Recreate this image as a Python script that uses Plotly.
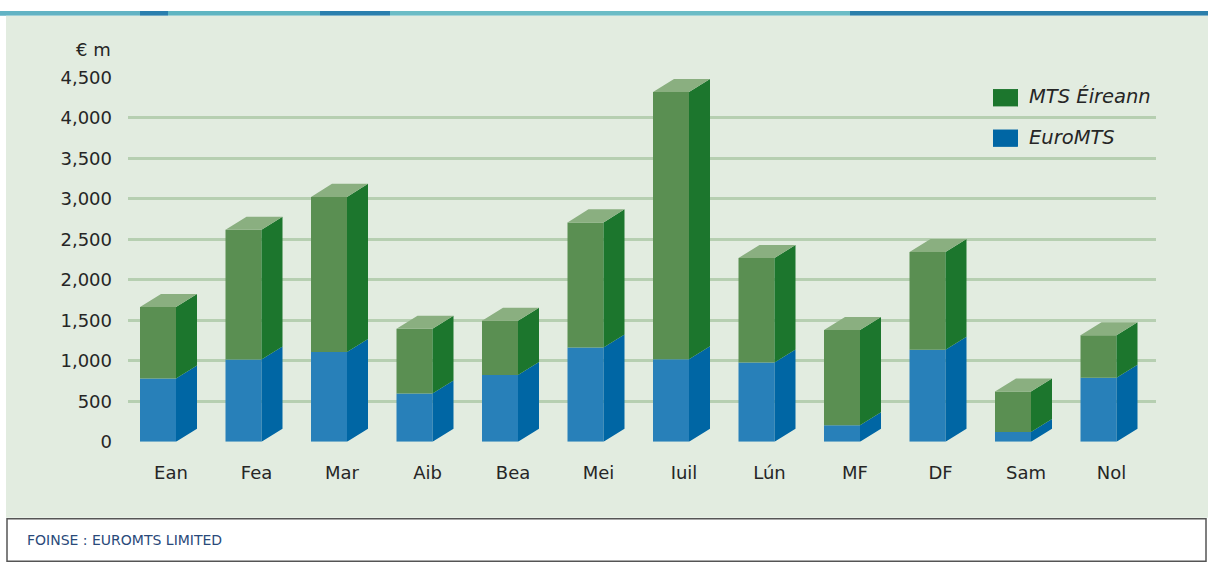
import plotly.graph_objects as go

# ---- data ----
months = ["Ean", "Fea", "Mar", "Aib", "Bea", "Mei", "Iuil", "Lún", "MF", "DF", "Sam", "Nol"]
euromts = [780, 1015, 1110, 595, 825, 1165, 1020, 980, 205, 1135, 120, 790]
mts_eireann = [885, 1605, 1915, 800, 670, 1545, 3300, 1290, 1175, 1210, 500, 525]
y_ticks = [0, 500, 1000, 1500, 2000, 2500, 3000, 3500, 4000, 4500]

W, H = 1208, 577
FONT = "DejaVu Sans"
TXT = "#262626"
WT = 400

# geometry (pixel layout of plot area)
X0, X1 = 128, 1156
Y0, Y1 = 447, 69
px_per_unit_x = 85.5
xr0 = -(171 - X0) / px_per_unit_x
xr1 = xr0 + (X1 - X0) / px_per_unit_x
px_per_val = (Y0 - Y1) / 4500.0

bar_w = 36 / px_per_unit_x
bar_off = -31 / px_per_unit_x
dx = 21 / px_per_unit_x
dy = 13.5 / px_per_val

# colours
blue_front, blue_side = "#2880b9", "#0066a4"
green_front, green_side, green_top = "#5a8f52", "#1c762d", "#8aaf80"

idx = list(range(len(months)))
totals = [a + b for a, b in zip(euromts, mts_eireann)]

fig = go.Figure()

# front faces
fig.add_trace(go.Bar(x=idx, y=euromts, base=[0] * len(idx), width=bar_w, offset=bar_off,
                     marker=dict(color=blue_front, line=dict(width=0)), name="EuroMTS",
                     showlegend=False, hoverinfo="skip"))
fig.add_trace(go.Bar(x=idx, y=mts_eireann, base=euromts, width=bar_w, offset=bar_off,
                     marker=dict(color=green_front, line=dict(width=0)), name="MTS Éireann",
                     showlegend=False, hoverinfo="skip"))


def poly_trace(polys, color):
    xs, ys = [], []
    for p in polys:
        for (a, b) in p:
            xs.append(a)
            ys.append(b)
        xs.append(p[0][0])
        ys.append(p[0][1])
        xs.append(None)
        ys.append(None)
    return go.Scatter(x=xs, y=ys, mode="lines", fill="toself", fillcolor=color,
                      line=dict(width=0, color=color), showlegend=False, hoverinfo="skip")


blue_sides, green_sides, tops = [], [], []
for i, e, t in zip(idx, euromts, totals):
    xl = i + bar_off
    xr = xl + bar_w
    blue_sides.append([(xr, 0), (xr + dx, dy), (xr + dx, e + dy), (xr, e)])
    green_sides.append([(xr, e), (xr + dx, e + dy), (xr + dx, t + dy), (xr, t)])
    tops.append([(xl, t), (xr, t), (xr + dx, t + dy), (xl + dx, t + dy)])

fig.add_trace(poly_trace(blue_sides, blue_side))
fig.add_trace(poly_trace(green_sides, green_side))
fig.add_trace(poly_trace(tops, green_top))

shapes = []
# top textured band (approximation)
band = [(0, 140, "#62b3c4"), (140, 168, "#2a7fae"), (168, 320, "#5fb5c2"), (320, 390, "#2a7fae"),
        (390, 850, "#6bbcc6"), (850, 1208, "#2b7fab")]
for a, b, c in band:
    shapes.append(dict(type="rect", xref="paper", yref="paper", x0=a / W, x1=b / W,
                       y0=1 - 5 / H, y1=1, fillcolor=c, line=dict(width=0), layer="below"))
# main panel
shapes.append(dict(type="rect", xref="paper", yref="paper", x0=6 / W, x1=1, y0=1 - 526 / H,
                   y1=1 - 5 / H, fillcolor="#e2ece0", line=dict(width=0), layer="below"))
# footer box
shapes.append(dict(type="rect", xref="paper", yref="paper", x0=7 / W, x1=1206 / W,
                   y0=1 - 571 / H, y1=1 - 527 / H, fillcolor="white",
                   line=dict(color="#555555", width=1.5), layer="below"))
# legend swatches
shapes.append(dict(type="rect", xref="paper", yref="paper", x0=993 / W, x1=1018 / W,
                   y0=1 - 99 / H, y1=1 - 81 / H, fillcolor=green_side, line=dict(width=0)))
shapes.append(dict(type="rect", xref="paper", yref="paper", x0=993 / W, x1=1018 / W,
                   y0=1 - 141 / H, y1=1 - 123 / H, fillcolor=blue_side, line=dict(width=0)))

annotations = [
    dict(text="€ m", xref="paper", yref="paper", x=113 / W, y=1 - 40 / H, xanchor="right",
         yanchor="middle", showarrow=False, font=dict(family=FONT, size=18, color=TXT, weight=WT)),
    dict(text="<i>MTS Éireann</i>", xref="paper", yref="paper", x=1027 / W, y=1 - 89 / H,
         xanchor="left", yanchor="middle", showarrow=False,
         font=dict(family=FONT, size=19.5, color=TXT, weight=WT)),
    dict(text="<i>EuroMTS</i>", xref="paper", yref="paper", x=1027 / W, y=1 - 131 / H,
         xanchor="left", yanchor="middle", showarrow=False,
         font=dict(family=FONT, size=19.5, color=TXT, weight=WT)),
    dict(text="FOINSE : EUROMTS LIMITED", xref="paper", yref="paper", x=25 / W, y=1 - 549 / H,
         xanchor="left", yanchor="middle", showarrow=False,
         font=dict(family=FONT, size=14, color="#2a4a7a", weight=WT)),
]

fig.update_layout(
    width=W, height=H, autosize=False,
    margin=dict(l=0, r=0, t=0, b=0, pad=0),
    paper_bgcolor="white", plot_bgcolor="rgba(0,0,0,0)",
    barmode="overlay", showlegend=False,
    shapes=shapes, annotations=annotations,
    font=dict(family=FONT, size=18, color=TXT, weight=WT),
    xaxis=dict(domain=[X0 / W, X1 / W], range=[xr0, xr1], tickmode="array", tickvals=idx,
               ticktext=months, showgrid=False, zeroline=False, showline=False, ticks="",
               ticklabelstandoff=18, tickfont=dict(family=FONT, size=18, color=TXT, weight=WT),
               fixedrange=True),
    yaxis=dict(domain=[1 - Y0 / H, 1 - Y1 / H], range=[0, 4500], tickmode="array",
               tickvals=y_ticks, ticktext=[f"{v:,}" for v in y_ticks], showgrid=True,
               gridcolor="#b6cfb1", gridwidth=2.5, zeroline=False, showline=False, ticks="",
               ticklabelstandoff=15, tickfont=dict(family=FONT, size=18, color=TXT, weight=WT),
               fixedrange=True),
)

fig.write_html(
    "out.html",
    config={"displayModeBar": False},
    post_script=(
        "document.body.style.margin='0px';document.body.style.padding='0px';"
        "document.body.style.overflow='hidden';"
        "document.documentElement.style.overflow='hidden';"
    ),
)
